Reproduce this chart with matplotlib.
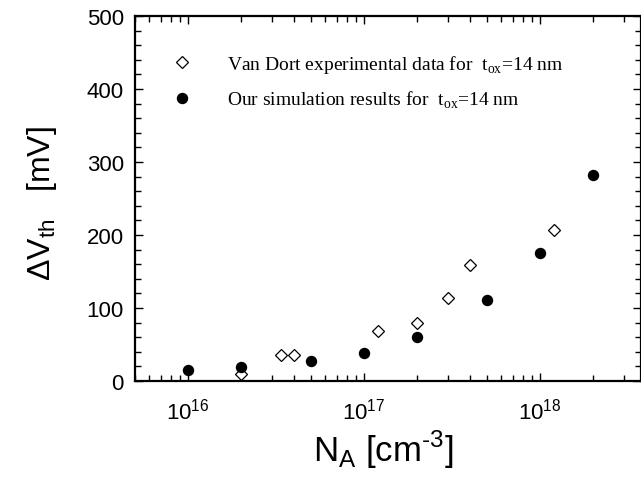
import numpy as np
import matplotlib as mpl
mpl.use('Agg')
import matplotlib.pyplot as plt
from matplotlib.ticker import LogLocator, MultipleLocator

# Van Dort experimental data (open diamonds)
na_exp = [2e16, 3.4e16, 4.0e16, 1.2e17, 2e17, 3e17, 4e17, 1.2e18]
dvth_exp = [10, 36, 36, 69, 80, 114, 159, 207]

# simulation results (filled circles)
na_sim = [1e16, 2e16, 5e16, 1e17, 2e17, 5e17, 1e18, 2e18]
dvth_sim = [15, 19, 27, 39, 60, 111, 175, 282]

# legend subscripts are in serif -> use the cal slot for that
lbl_exp = 'Van Dort experimental data for  t$_{\\mathcal{ox}}$=14 nm'
lbl_sim = 'Our simulation results for  t$_{\\mathcal{ox}}$=14 nm'

plt.rcParams['font.family'] = 'Liberation Sans'
plt.rcParams['mathtext.fontset'] = 'custom'
plt.rcParams['mathtext.rm'] = 'Liberation Sans'
plt.rcParams['mathtext.cal'] = 'Liberation Serif'

fig = plt.figure(figsize=(6.41, 4.85), dpi=100)
ax = fig.add_axes([135/641, 103/485, 506/641, 365/485])

ax.plot(na_exp, dvth_exp, 'D', ms=6.6, mfc='white', mec='black', mew=0.9, label=lbl_exp)
ax.plot(na_sim, dvth_sim, 'o', ms=7.2, color='black', label=lbl_sim)

ax.set_xscale('log')
ax.set_xlim(5e15, 3.76e18)
ax.set_ylim(0, 500)
ax.xaxis.set_major_locator(LogLocator(base=10, numticks=10))
ax.xaxis.set_minor_locator(LogLocator(base=10, subs=np.arange(2, 10), numticks=20))
ax.yaxis.set_major_locator(MultipleLocator(100))
ax.yaxis.set_minor_locator(MultipleLocator(20))

for s in ax.spines.values():
    s.set_linewidth(1.6)
ax.tick_params(which='both', direction='in', top=True, right=True, width=1)
ax.tick_params(which='major', length=6, labelsize=16)
ax.tick_params(axis='x', which='major', pad=12)
ax.tick_params(axis='y', which='major', pad=8)
ax.tick_params(which='minor', length=4)

ax.set_xlabel('N$_{\\mathrm{A}}$ [cm$^{\\text{-3}}$]', fontsize=25)
ax.set_ylabel('ΔV$_{\\mathrm{th}}$   [mV]', fontsize=23)
ax.xaxis.set_label_coords(0.49, -0.128)
ax.yaxis.set_label_coords(-0.15, 0.49)

ax.legend(loc='upper left', bbox_to_anchor=(0.04, 0.92), frameon=False,
          prop={'family': 'Liberation Serif', 'size': 14},
          handletextpad=1.3, labelspacing=0.7, borderaxespad=0)

fig.savefig('out.png', dpi=100)
